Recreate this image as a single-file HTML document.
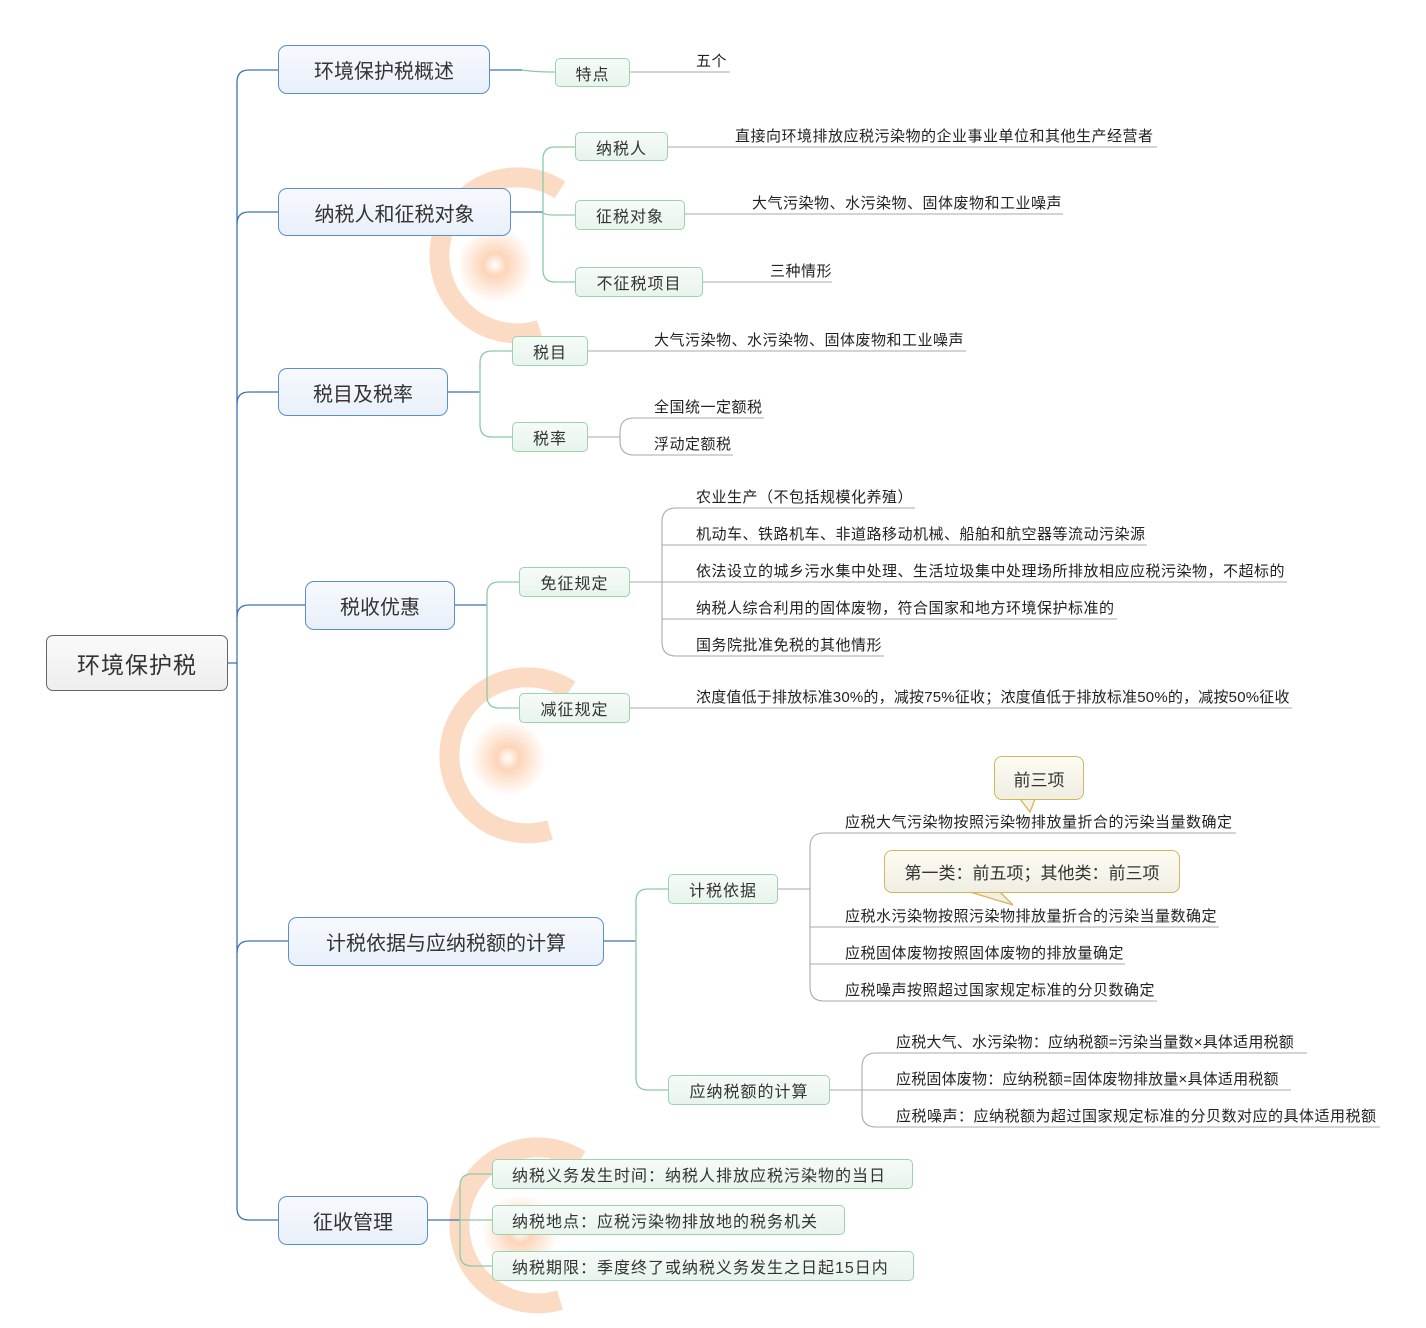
<!DOCTYPE html>
<html><head><meta charset="utf-8"><style>
body{margin:0;background:#fff;}
#c{position:relative;width:1426px;height:1328px;overflow:hidden;font-family:"Liberation Sans","Noto Sans CJK SC",sans-serif;}
.n{position:absolute;box-sizing:border-box;display:flex;align-items:center;justify-content:center;white-space:nowrap;color:#333;}
.r{border:1px solid #666;border-radius:7px;background:linear-gradient(#fafafa,#eee);font-size:23px;letter-spacing:1px;}
.b{border:1.5px solid #5b8ed0;border-radius:9px;background:linear-gradient(#f7f9fd,#e9f0fa);font-size:20px;}
.g{border:1.5px solid #9bd3b0;border-radius:5px;background:linear-gradient(#f6fbf7,#e8f4ec);font-size:16px;letter-spacing:1px;}
.g.l{justify-content:flex-start;padding-left:19px;}
.t{position:absolute;font-size:15px;letter-spacing:0.5px;color:#222;white-space:nowrap;line-height:16px;}
.t.s{letter-spacing:0.2px;}
.cl{position:absolute;box-sizing:border-box;border:1.5px solid #d4b55a;border-radius:8px;background:linear-gradient(#fdfcf4,#f0eee2);display:flex;align-items:center;justify-content:center;font-size:17px;color:#333;}
svg{position:absolute;left:0;top:0;}
</style></head><body><div id="c">
<svg width="1426" height="1328">
<defs><radialGradient id="rg"><stop offset="0" stop-color="#fff" stop-opacity="0.6"/><stop offset="0.3" stop-color="#fbb98a" stop-opacity="0.6"/><stop offset="1" stop-color="#fbb98a" stop-opacity="0"/></radialGradient></defs>
<g fill="none" stroke="#f9b07d" stroke-opacity="0.45" stroke-width="20">
<path d="M560 190 A78 78 0 1 0 540 330"/>
<path d="M570 690 A78 78 0 1 0 550 830"/>
<path d="M580 1160 A78 78 0 1 0 560 1300"/>
</g>
<circle cx="495" cy="265" r="38" fill="url(#rg)"/>
<circle cx="508" cy="758" r="38" fill="url(#rg)"/>
<circle cx="520" cy="1232" r="38" fill="url(#rg)"/>
<g fill="none" stroke="#3f72b5" stroke-width="1.3">
<path d="M228 663 H237"/>
<path d="M278 70 H249 Q237 70 237 82 V1208 Q237 1220 249 1220 H278"/>
<path d="M237 224 Q237 212 249 212 H278"/>
<path d="M237 404 Q237 392 249 392 H278"/>
<path d="M237 617 Q237 605 249 605 H305"/>
<path d="M237 953 Q237 941 249 941 H288"/>
<path d="M490 70 H522"/>
<path d="M511 212 H543"/>
<path d="M448 392 H480"/>
<path d="M455 605 H487"/>
<path d="M604 941 H636"/>
<path d="M428 1220 H460"/>
</g>
<g fill="none" stroke="#8dcaa3" stroke-width="1.3">
<path d="M522 70 Q535 72 555 72"/>
<path d="M575 147 H555 Q543 147 543 159 V270 Q543 282 555 282 H575"/><path d="M543 212 Q543 215 555 215 H575"/>
<path d="M512 351 H492 Q480 351 480 363 V425 Q480 437 492 437 H512"/>
<path d="M519 582 H499 Q487 582 487 594 V696 Q487 708 499 708 H519"/>
<path d="M668 889 H648 Q636 889 636 901 V1078 Q636 1090 648 1090 H668"/>
<path d="M492 1174 H472 Q460 1174 460 1186 V1254 Q460 1266 472 1266 H492"/><path d="M460 1220 H492"/>
</g>
<g fill="none" stroke="#aaa" stroke-width="1.1">
<path d="M630 72 H730"/>
<path d="M668 147 H1157"/>
<path d="M685 214 H1063"/>
<path d="M703 282 H832"/>
<path d="M588 351 H966"/>
<path d="M588 437 H620"/><path d="M634 418 H764 M634 418 Q620 418 620 432 V441 Q620 455 634 455 H733"/>
<path d="M630 582 H662"/>
<path d="M676 508 H915 M676 508 Q662 508 662 522 V642 Q662 656 676 656 H884"/>
<path d="M662 545 H1147 M662 582 H1287 M662 619 H1117"/>
<path d="M630 708 H1292"/>
<path d="M778 889 H810"/>
<path d="M824 833 H1236 M824 833 Q810 833 810 847 V987 Q810 1001 824 1001 H1157"/>
<path d="M810 927 H1219 M810 964 H1125"/>
<path d="M830 1090 H862"/>
<path d="M876 1053 H1307 M876 1053 Q862 1053 862 1067 V1113 Q862 1127 876 1127 H1380"/>
<path d="M862 1090 H1291"/>
</g>
<path d="M1020 799 L1030 812 L1035 799" fill="#f5f3e8" stroke="#d4b55a" stroke-width="1.3"/>
<path d="M970 892 L1013 905 L1000 892" fill="#f2f0e4" stroke="#d4b55a" stroke-width="1.3"/>
</svg>
<div class="n r" style="left:46px;top:635px;width:182px;height:56px">环境保护税</div>
<div class="n b" style="left:278px;top:45px;width:212px;height:49px">环境保护税概述</div>
<div class="n b" style="left:278px;top:188px;width:233px;height:48px">纳税人和征税对象</div>
<div class="n b" style="left:278px;top:368px;width:170px;height:48px">税目及税率</div>
<div class="n b" style="left:305px;top:581px;width:150px;height:49px">税收优惠</div>
<div class="n b" style="left:288px;top:917px;width:316px;height:49px">计税依据与应纳税额的计算</div>
<div class="n b" style="left:278px;top:1196px;width:150px;height:49px">征收管理</div>
<div class="n g" style="left:555px;top:58px;width:75px;height:29px">特点</div>
<div class="n g" style="left:575px;top:132px;width:93px;height:29px">纳税人</div>
<div class="n g" style="left:575px;top:200px;width:110px;height:30px">征税对象</div>
<div class="n g" style="left:575px;top:267px;width:128px;height:30px">不征税项目</div>
<div class="n g" style="left:512px;top:336px;width:76px;height:30px">税目</div>
<div class="n g" style="left:512px;top:422px;width:76px;height:30px">税率</div>
<div class="n g" style="left:519px;top:567px;width:111px;height:30px">免征规定</div>
<div class="n g" style="left:519px;top:693px;width:111px;height:30px">减征规定</div>
<div class="n g" style="left:668px;top:874px;width:110px;height:30px">计税依据</div>
<div class="n g" style="left:668px;top:1075px;width:162px;height:30px">应纳税额的计算</div>
<div class="n g l" style="left:492px;top:1159px;width:421px;height:30px">纳税义务发生时间：纳税人排放应税污染物的当日</div>
<div class="n g l" style="left:492px;top:1205px;width:353px;height:30px">纳税地点：应税污染物排放地的税务机关</div>
<div class="n g l" style="left:492px;top:1251px;width:422px;height:30px">纳税期限：季度终了或纳税义务发生之日起15日内</div>
<div class="t" style="left:696px;top:54px">五个</div>
<div class="t" style="left:735px;top:129px">直接向环境排放应税污染物的企业事业单位和其他生产经营者</div>
<div class="t" style="left:752px;top:196px">大气污染物、水污染物、固体废物和工业噪声</div>
<div class="t" style="left:770px;top:264px">三种情形</div>
<div class="t" style="left:654px;top:333px">大气污染物、水污染物、固体废物和工业噪声</div>
<div class="t" style="left:654px;top:400px">全国统一定额税</div>
<div class="t" style="left:654px;top:437px">浮动定额税</div>
<div class="t" style="left:696px;top:490px">农业生产（不包括规模化养殖）</div>
<div class="t" style="left:696px;top:527px">机动车、铁路机车、非道路移动机械、船舶和航空器等流动污染源</div>
<div class="t" style="left:696px;top:564px">依法设立的城乡污水集中处理、生活垃圾集中处理场所排放相应应税污染物，不超标的</div>
<div class="t" style="left:696px;top:601px">纳税人综合利用的固体废物，符合国家和地方环境保护标准的</div>
<div class="t" style="left:696px;top:638px">国务院批准免税的其他情形</div>
<div class="t s" style="left:696px;top:690px">浓度值低于排放标准30%的，减按75%征收；浓度值低于排放标准50%的，减按50%征收</div>
<div class="t" style="left:845px;top:815px">应税大气污染物按照污染物排放量折合的污染当量数确定</div>
<div class="t" style="left:845px;top:909px">应税水污染物按照污染物排放量折合的污染当量数确定</div>
<div class="t" style="left:845px;top:946px">应税固体废物按照固体废物的排放量确定</div>
<div class="t" style="left:845px;top:983px">应税噪声按照超过国家规定标准的分贝数确定</div>
<div class="t s" style="left:896px;top:1035px">应税大气、水污染物：应纳税额=污染当量数×具体适用税额</div>
<div class="t s" style="left:896px;top:1072px">应税固体废物：应纳税额=固体废物排放量×具体适用税额</div>
<div class="t" style="left:896px;top:1109px">应税噪声：应纳税额为超过国家规定标准的分贝数对应的具体适用税额</div>
<div class="cl" style="left:994px;top:756px;width:90px;height:44px">前三项</div>
<div class="cl" style="left:884px;top:850px;width:296px;height:43px">第一类：前五项；其他类：前三项</div>
</div></body></html>
